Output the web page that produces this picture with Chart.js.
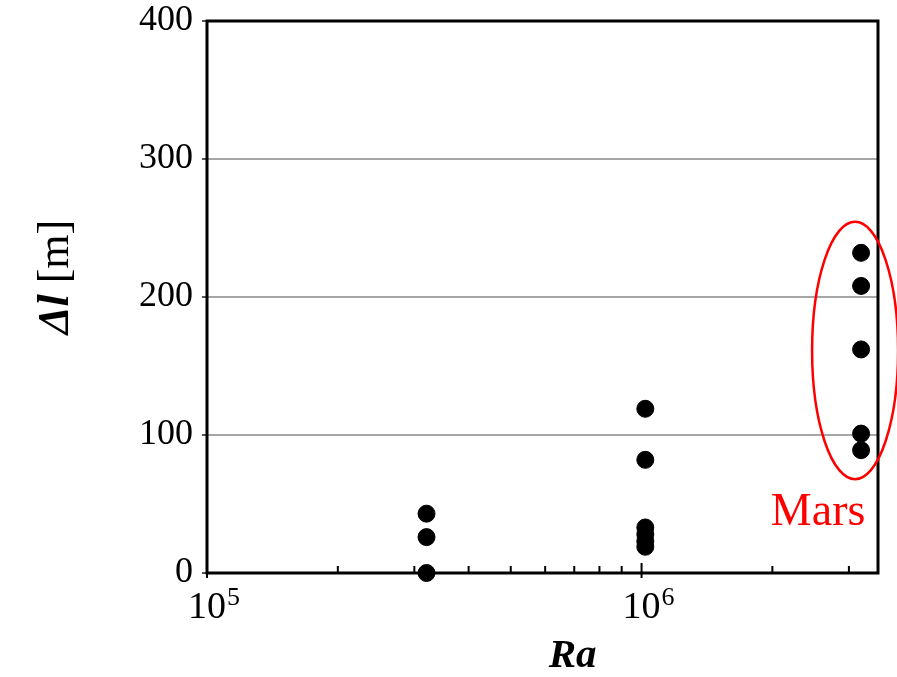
<!DOCTYPE html>
<html lang="en">
<head>
<meta charset="UTF-8">
<title>Δl vs Ra</title>
<script src="https://cdn.jsdelivr.net/npm/chart.js"></script>
<style>
    body { margin: 0; background: #fff; }
</style>
</head>
<body>
<canvas id="grafico" width="897" height="677"></canvas>

<script>
    // Ra groups and the Δl values read at each one
    var raLow = 3.2e5
    var dlLow = [43, 26, 0]
    var raMid = 1.02e6
    var dlMid = [119, 82, 33, 28, 23, 19]
    var raMars = 3.2e6
    var dlMars = [232, 208, 162, 101, 89]

    var xMajorExp = [5, 6]
    var yTicks = [0, 100, 200, 300, 400]
    var marsLabel = 'Mars'

    var serif = '"Liberation Serif", "Times New Roman", serif'

    function toPoints(ra, list) {
        return list.map(function (v) { return { x: ra, y: v } })
    }

    var pontos = [].concat(toPoints(raLow, dlLow), toPoints(raMid, dlMid), toPoints(raMars, dlMars))

    var extras = {
        id: 'extras',
        beforeDatasetsDraw: function (chart) {
            var ctx = chart.ctx, a = chart.chartArea, x = chart.scales.x
            ctx.save()
            ctx.strokeStyle = '#000'
            // small ticks pointing into the plot along the Ra axis
            ctx.lineWidth = 2
            for (var e = 5; e <= 6; e++) {
                for (var m = 1; m <= 9; m++) {
                    var v = m * Math.pow(10, e)
                    if (v > x.max) break
                    var px = x.getPixelForValue(v)
                    var major = m === 1
                    ctx.beginPath()
                    ctx.moveTo(px, a.bottom + (major ? 5 : 0))
                    ctx.lineTo(px, a.bottom - (major ? 10 : 7))
                    ctx.stroke()
                }
            }
            ctx.lineWidth = 3
            ctx.strokeRect(a.left, a.top, a.width, a.height)
            ctx.restore()
        },
        afterDraw: function (chart) {
            var ctx = chart.ctx, a = chart.chartArea, x = chart.scales.x, y = chart.scales.y
            ctx.save()
            ctx.fillStyle = '#000'
            ctx.textBaseline = 'alphabetic'

            // 10^5, 10^6 labels
            xMajorExp.forEach(function (e) {
                var px = x.getPixelForValue(Math.pow(10, e))
                ctx.font = '38px ' + serif
                var w = ctx.measureText('10').width
                ctx.textAlign = 'left'
                ctx.fillText('10', px - w / 2, a.bottom + 45)
                ctx.font = '26px ' + serif
                ctx.fillText(String(e), px + w / 2 + 1, a.bottom + 32)
            })

            // Ra
            ctx.font = 'italic bold 41px ' + serif
            ctx.textAlign = 'center'
            ctx.fillText('Ra', a.left + a.width * 0.545, 667)

            // Δl [m], rotated
            ctx.save()
            ctx.translate(68, (a.top + a.bottom) / 2 - 20)
            ctx.rotate(-Math.PI / 2)
            ctx.font = 'italic bold 44px ' + serif
            var w1 = ctx.measureText('Δl').width
            ctx.font = '44px ' + serif
            var w2 = ctx.measureText(' [m]').width
            var start = -(w1 + w2) / 2
            ctx.textAlign = 'left'
            ctx.font = 'italic bold 44px ' + serif
            ctx.fillText('Δl', start, 0)
            ctx.font = '44px ' + serif
            ctx.fillText(' [m]', start + w1, 0)
            ctx.restore()

            // ellipse round the Mars points
            var cx = x.getPixelForValue(raMars) - 6
            var top = y.getPixelForValue(Math.max.apply(null, dlMars))
            var bottom = y.getPixelForValue(Math.min.apply(null, dlMars))
            var cy = (top + bottom) / 2 - 1
            var ry = (bottom - top) / 2 + 30
            ctx.strokeStyle = '#ff0000'
            ctx.lineWidth = 2.5
            ctx.beginPath()
            ctx.ellipse(cx, cy, 43, ry, 0, 0, Math.PI * 2)
            ctx.stroke()

            ctx.fillStyle = '#ff0000'
            ctx.font = '46px ' + serif
            ctx.textAlign = 'center'
            ctx.fillText(marsLabel, cx - 37, cy + ry + 46)
            ctx.restore()
        }
    }

    var grafico = new Chart(document.getElementById('grafico'), {
        type: 'scatter',
        data: {
            datasets: [{
                data: pontos,
                backgroundColor: '#000',
                borderColor: '#000',
                pointRadius: 8.5,
                pointHoverRadius: 8.5,
                clip: false
            }]
        },
        options: {
            responsive: false,
            animation: false,
            events: [],
            layout: { padding: { top: 21, right: 19, left: 0, bottom: 0 } },
            plugins: {
                legend: { display: false },
                tooltip: { enabled: false }
            },
            scales: {
                x: {
                    type: 'logarithmic',
                    min: 1e5,
                    max: 3.5e6,
                    grid: { display: false },
                    border: { display: false },
                    ticks: { display: false },
                    afterFit: function (scale) { scale.height = 104 }
                },
                y: {
                    min: 0,
                    max: 400,
                    afterBuildTicks: function (scale) {
                        scale.ticks = yTicks.map(function (v) { return { value: v } })
                    },
                    grid: { color: '#a6a6a6', lineWidth: 2, tickLength: 5, tickColor: '#555' },
                    border: { display: false },
                    ticks: {
                        color: '#000',
                        padding: 9,
                        font: { family: serif, size: 36 }
                    },
                    afterFit: function (scale) {
                        scale.width = 207
                        scale.paddingTop = 0
                        scale.paddingBottom = 0
                    }
                }
            }
        },
        plugins: [extras]
    })
</script>
</body>
</html>
